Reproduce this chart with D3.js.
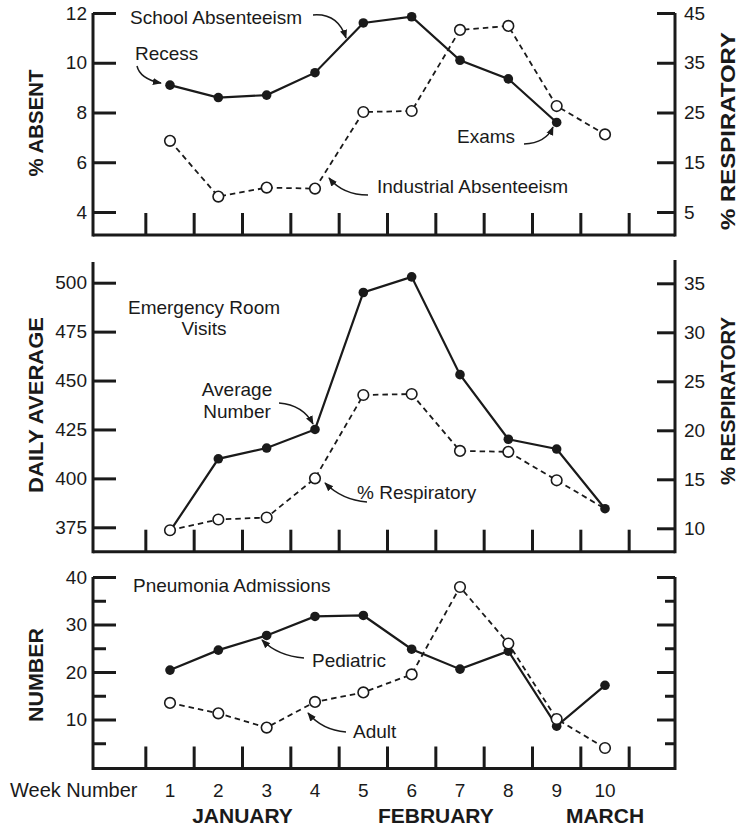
<!DOCTYPE html>
<html>
<head>
<meta charset="UTF-8">
<title>Absenteeism and respiratory illness</title>
<script src="https://d3js.org/d3.v7.min.js"></script>
<style>
  body { margin: 0; background: #fff; }
  text { font-family: "Liberation Sans", Arial, sans-serif; fill: #1a1a1a; }
</style>
</head>
<body>
<svg width="739" height="829"></svg>
<script>
// weeks on the x axis
var weeks = [1, 2, 3, 4, 5, 6, 7, 8, 9, 10];
var months = ["JANUARY", "FEBRUARY", "MARCH"];
var monthMid = [2.5, 6.5, 10];

// top panel: % absent (left) and % respiratory (right)
var schoolAbsent = [9.1, 8.6, 8.7, 9.6, 11.6, 11.85, 10.1, 9.35, 7.6];
var industrialResp = [19.3, 8.1, 9.9, 9.7, 25.1, 25.3, 41.6, 42.4, 26.3, 20.6];
var absentTicks = [4, 6, 8, 10, 12];
var respTicksTop = [5, 15, 25, 35, 45];

// middle panel: ER daily average (left) and % respiratory (right)
var erAverage = [373, 410, 415.5, 425, 495, 503, 453, 420, 415, 384.5];
var erResp = [9.8, 10.9, 11.1, 15.1, 23.6, 23.7, 17.9, 17.8, 14.9, 12.0];
var dailyTicks = [375, 400, 425, 450, 475, 500];
var respTicksMid = [10, 15, 20, 25, 30, 35];

// bottom panel: pneumonia admissions
var pediatric = [20.4, 24.6, 27.7, 31.7, 31.9, 24.8, 20.6, 24.4, 8.6, 17.2];
var adult = [13.5, 11.3, 8.3, 13.7, 15.7, 19.5, 37.9, 26.0, 10.1, 4.0];
var numberTicks = [5, 10, 15, 20, 25, 30, 35, 40];
var numberLabels = [10, 20, 30, 40];

var svg = d3.select("svg");
var ink = "#1a1a1a";
var AXL = 93, AXR = 675;

var x = d3.scaleLinear().domain([1, 10]).range([170, 605]);
var gapTicks = d3.range(0.5, 11, 1);

svg.append("defs").append("marker")
    .attr("id", "arr")
    .attr("viewBox", "0 0 10 10")
    .attr("refX", 9).attr("refY", 5)
    .attr("markerWidth", 9).attr("markerHeight", 9)
    .attr("markerUnits", "userSpaceOnUse")
    .attr("orient", "auto")
  .append("path")
    .attr("d", "M0,1 L10,5 L0,9 Z")
    .attr("fill", ink);

function frame(yL, yR, base, topL, topR, leftTicks, leftLabels, rightTicks, rightLabels) {
    var g = svg.append("g");
    // axis lines
    g.append("line").attr("x1", AXL).attr("x2", AXL).attr("y1", topL).attr("y2", base + 1.5)
        .attr("stroke", ink).attr("stroke-width", 3);
    g.append("line").attr("x1", AXR).attr("x2", AXR).attr("y1", topR).attr("y2", base + 1.5)
        .attr("stroke", ink).attr("stroke-width", 3);
    g.append("line").attr("x1", AXL).attr("x2", AXR).attr("y1", base).attr("y2", base)
        .attr("stroke", ink).attr("stroke-width", 3);

    // left axis, ticks pointing inward
    var la = g.append("g").attr("transform", "translate(" + AXL + ",0)")
        .call(d3.axisLeft(yL).tickValues(leftTicks).tickSizeOuter(0)
            .tickSize(-23).tickPadding(6)
            .tickFormat(function(d) { return leftLabels.indexOf(d) >= 0 ? d : ""; }));
    la.select(".domain").remove();
    la.selectAll(".tick line").attr("stroke", ink).attr("stroke-width", 3)
        .attr("x2", function(d) { return leftLabels.indexOf(d) >= 0 ? 23 : 13; });
    la.selectAll(".tick text").attr("font-size", 19).attr("fill", ink);

    var ra = g.append("g").attr("transform", "translate(" + AXR + ",0)")
        .call(d3.axisRight(yR).tickValues(rightTicks).tickSizeOuter(0)
            .tickSize(-18).tickPadding(9)
            .tickFormat(function(d) { return rightLabels.indexOf(d) >= 0 ? d : ""; }));
    ra.select(".domain").remove();
    ra.selectAll(".tick line").attr("stroke", ink).attr("stroke-width", 3)
        .attr("x2", function(d) { return rightTicks.length > 6 && d % 10 !== 0 ? -10 : -18; });
    ra.selectAll(".tick text").attr("font-size", 19).attr("fill", ink);

    // week separators standing on the baseline
    g.selectAll("line.wk").data(gapTicks).enter().append("line")
        .attr("class", "wk")
        .attr("x1", function(d) { return x(d); }).attr("x2", function(d) { return x(d); })
        .attr("y1", base).attr("y2", base - 22)
        .attr("stroke", ink).attr("stroke-width", 3);
    return g;
}

function series(g, vals, y, filled) {
    var pts = vals.map(function(v, i) { return [weeks[i], v]; });
    var line = d3.line().x(function(d) { return x(d[0]); }).y(function(d) { return y(d[1]); });
    g.append("path").datum(pts).attr("d", line)
        .attr("fill", "none").attr("stroke", ink)
        .attr("stroke-width", filled ? 2.2 : 1.8)
        .attr("stroke-dasharray", filled ? null : "5.5,4");
    return pts;
}

function dots(g, pts, y, filled) {
    g.selectAll(null).data(pts).enter().append("circle")
        .attr("cx", function(d) { return x(d[0]); })
        .attr("cy", function(d) { return y(d[1]); })
        .attr("r", filled ? 4.8 : 5.3)
        .attr("fill", filled ? ink : "#fff")
        .attr("stroke", ink).attr("stroke-width", filled ? 0 : 1.6);
}

function label(txt, px, py, anchor, size, weight) {
    svg.append("text").attr("x", px).attr("y", py)
        .attr("text-anchor", anchor || "start")
        .attr("font-size", size || 19)
        .attr("font-weight", weight || "normal")
        .text(txt);
}

function vlabel(txt, px, py, len) {
    svg.append("text")
        .attr("transform", "translate(" + px + "," + py + ") rotate(-90)")
        .attr("text-anchor", "middle")
        .attr("font-size", 21).attr("font-weight", "bold")
        .attr("textLength", len).attr("lengthAdjust", "spacingAndGlyphs")
        .text(txt);
}

function arrow(d) {
    svg.append("path").attr("d", d)
        .attr("fill", "none").attr("stroke", ink).attr("stroke-width", 1.5)
        .attr("marker-end", "url(#arr)");
}

// ---- top panel ----
var yAbs = d3.scaleLinear().domain([4, 12]).range([212, 13]);
var yRt = d3.scaleLinear().domain([5, 45]).range([212, 13]);
var g1 = frame(yAbs, yRt, 235, 13, 13, absentTicks, absentTicks, respTicksTop, respTicksTop);
var p1b = series(g1, industrialResp, yRt, false);
var p1a = series(g1, schoolAbsent, yAbs, true);
dots(g1, p1b, yRt, false);
dots(g1, p1a, yAbs, true);

// ---- middle panel ----
var yEr = d3.scaleLinear().domain([375, 500]).range([527.3, 282.7]);
var yRm = d3.scaleLinear().domain([10, 35]).range([528.3, 283.3]);
var g2 = frame(yEr, yRm, 551.7, 262, 260, dailyTicks, dailyTicks, respTicksMid, respTicksMid);
var p2b = series(g2, erResp, yRm, false);
var p2a = series(g2, erAverage, yEr, true);
dots(g2, p2a, yEr, true);
dots(g2, p2b.slice(0, 9), yRm, false);

// ---- bottom panel ----
var yNum = d3.scaleLinear().domain([0, 40]).range([767, 577]);
var g3 = frame(yNum, yNum, 768.5, 577, 577, numberTicks, numberLabels, numberTicks, []);
var p3b = series(g3, adult, yNum, false);
var p3a = series(g3, pediatric, yNum, true);
dots(g3, p3a, yNum, true);
dots(g3, p3b, yNum, false);

// week numbers and months
svg.selectAll("text.wn").data(weeks).enter().append("text")
    .attr("class", "wn")
    .attr("x", function(d) { return x(d); }).attr("y", 797)
    .attr("text-anchor", "middle").attr("font-size", 19)
    .text(function(d) { return d; });
label("Week Number", 10, 797, "start", 20);
svg.selectAll("text.mo").data(months).enter().append("text")
    .attr("class", "mo")
    .attr("x", function(d, i) { return x(monthMid[i]); }).attr("y", 823)
    .attr("text-anchor", "middle").attr("font-size", 21).attr("font-weight", "bold")
    .text(function(d) { return d; });

// axis titles
vlabel("% ABSENT", 43, 123, 107);
vlabel("% RESPIRATORY", 735, 131, 198);
vlabel("DAILY AVERAGE", 43, 405, 176);
vlabel("% RESPIRATORY", 735, 401, 168);
vlabel("NUMBER", 43, 675, 94);

// annotations
label("School Absenteeism", 130, 24);
arrow("M313,15 Q338,13 346,38");
label("Recess", 135, 60);
arrow("M137,66 Q140,79 161,83");
label("Exams", 457, 143);
arrow("M524,144 Q546,143 553,127");
label("Industrial Absenteeism", 377, 193);
arrow("M368,195 Q343,195 329,178");

label("Emergency Room", 204, 314, "middle");
label("Visits", 204, 335, "middle");
label("Average", 237, 396, "middle");
label("Number", 237, 418, "middle");
arrow("M279,403 Q303,405 313,424");
label("% Respiratory", 357, 499);
arrow("M367,502 Q342,500 325,483");

label("Pneumonia Admissions", 133, 592);
label("Pediatric", 312, 667);
arrow("M304,658 Q278,656 262,640");
label("Adult", 353, 738);
arrow("M346,732 Q322,730 308,713");
</script>
</body>
</html>
